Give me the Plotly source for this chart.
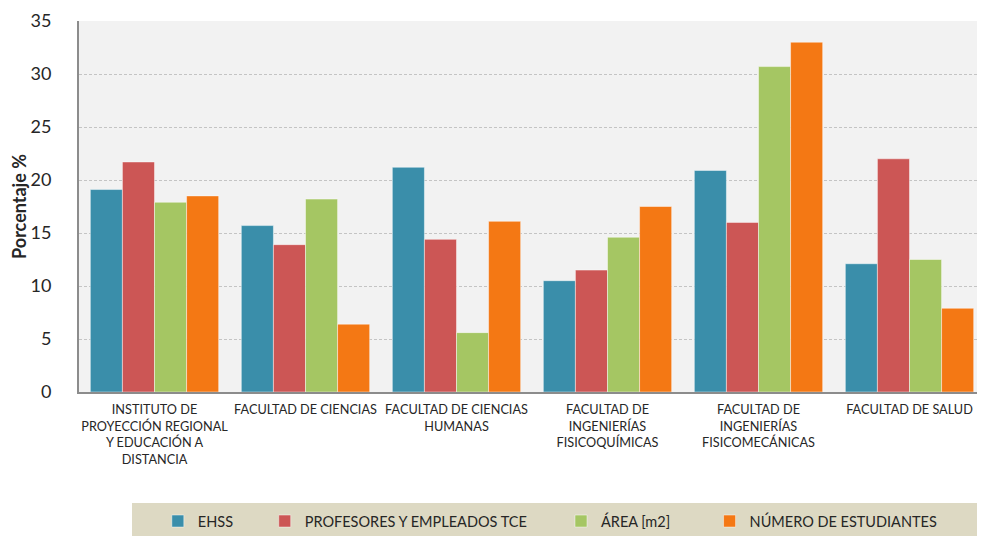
import plotly.graph_objects as go

categories = [
    "INSTITUTO DE<br>PROYECCIÓN REGIONAL<br>Y EDUCACIÓN A<br>DISTANCIA",
    "FACULTAD DE CIENCIAS",
    "FACULTAD DE CIENCIAS<br>HUMANAS",
    "FACULTAD DE<br>INGENIERÍAS<br>FISICOQUÍMICAS",
    "FACULTAD DE<br>INGENIERÍAS<br>FISICOMECÁNICAS",
    "FACULTAD DE SALUD",
]
ehss = [19.1, 15.7, 21.2, 10.5, 20.9, 12.1]
profesores = [21.7, 13.9, 14.4, 11.5, 16.0, 22.0]
area = [17.9, 18.2, 5.6, 14.6, 30.7, 12.5]
estudiantes = [18.5, 6.4, 16.1, 17.5, 33.0, 7.9]

series = [
    ("EHSS", ehss, "#3a8eaa"),
    ("PROFESORES Y EMPLEADOS TCE", profesores, "#cc5655"),
    ("ÁREA [m2]", area, "#a5c663"),
    ("NÚMERO DE ESTUDIANTES", estudiantes, "#f47814"),
]
legend_ids = ["legend", "legend2", "legend3", "legend4"]
legend_x = [0.087, 0.205, 0.532, 0.696]

FONT = "Lato, Open Sans, sans-serif"

fig = go.Figure()
for (name, vals, col), lid in zip(series, legend_ids):
    fig.add_trace(go.Bar(
        x=categories, y=vals, name=name, legend=lid,
        marker=dict(color=col, line=dict(color="rgba(255,255,255,0.45)", width=1)),
    ))

legend_common = dict(
    orientation="h",
    y=-0.348, yanchor="middle", xanchor="left",
    bgcolor="rgba(0,0,0,0)",
    font=dict(size=14.5, family=FONT, color="#262626"),
    itemwidth=30,
)

# body has a default 8px margin: size the figure so the plot area lands where the reference has it
fig.update_layout(
    width=977, height=528,
    margin=dict(l=71, r=0, t=13, b=144, autoexpand=False),
    paper_bgcolor="white",
    plot_bgcolor="#f2f2f2",
    barmode="group",
    bargap=0.15,
    bargroupgap=0,
    font=dict(family=FONT, color="#262626"),
    showlegend=True,
    shapes=[dict(
        type="rect", xref="paper", yref="paper",
        x0=0.0585, x1=1.0, y0=-0.388, y1=-0.299,
        fillcolor="#ddd9c3", line=dict(width=0), layer="below",
    )],
)
for lid, lx in zip(legend_ids, legend_x):
    fig.update_layout({lid: dict(legend_common, x=lx)})

fig.update_yaxes(
    range=[0, 35], dtick=5,
    showgrid=True, gridcolor="#c4c4c4", griddash="3px,2px", gridwidth=1,
    showline=True, linecolor="#8c8c8c", linewidth=2,
    zeroline=False,
    ticks="", tickfont=dict(size=18, family=FONT, color="#262626"),
    ticklabelstandoff=22,
    automargin=False,
    title=dict(text="<b>Porcentaje %</b>", font=dict(size=18, family=FONT, color="#262626"), standoff=6),
)
fig.update_xaxes(
    showline=True, linecolor="#8c8c8c", linewidth=2,
    ticks="", tickfont=dict(size=12.7, family=FONT, color="#262626"),
    tickangle=0, automargin=False, ticklabelstandoff=5,
)

fig.write_html("out.html")
